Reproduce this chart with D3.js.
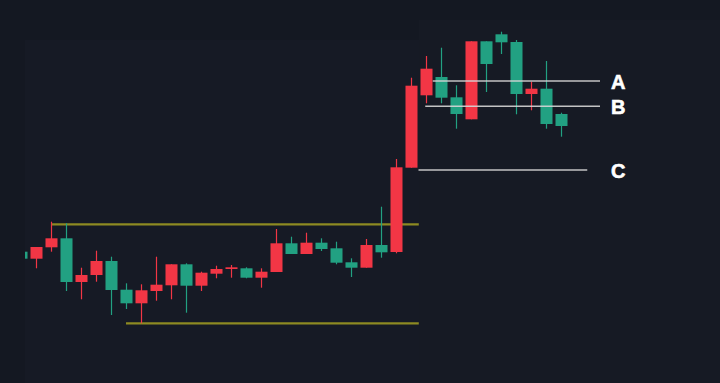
<!DOCTYPE html>
<html><head><meta charset="utf-8">
<script src="https://cdn.jsdelivr.net/npm/d3@7/dist/d3.min.js"></script>
<style>html,body{margin:0;padding:0;background:#151923;overflow:hidden}</style>
</head><body><svg id="c" width="720" height="383"></svg>
<script>
// candle index (time) and OHLC prices
const idx   = d3.range(37);
const opens = [148.3,141.3,152.7,161.7,118,125,139,110.3,96.7,109,114.7,135.7,114.3,126.3,131,131.7,122.3,128,156.7,146,157.3,151.7,137.7,132.3,155,148,232.3,304.7,323,302.7,280.7,358.7,365.7,358,306,311.3,286];
const highs = [148.3,153,178.3,176.7,132.3,149.3,143.3,116.7,115.7,143.3,135.7,136.7,128.3,134.3,135,132.7,131.7,171,163.3,167.3,161.7,158.3,141.7,161,193.3,241,322.3,344,352.3,314.7,358.7,358.7,368.3,360,318.3,339,287.3];
const lows  = [141.3,131.7,148.3,109,100.7,118.3,85,91,76.7,99.3,100.7,87.3,109,121.7,122.3,121.7,112.3,128,146,146,149,135.7,123,132.3,142.3,146.7,232.3,296.7,296.7,271.3,280.7,308,346,285.7,289.7,271.3,263.3];
const closes= [141.3,153,161.7,118,125,139,110,96.7,109.7,115.3,135.7,114.3,127.3,131,132.7,122.3,128.3,156.7,146,157.3,151,137.3,132.3,155,147.7,232.7,314.3,331.3,302.3,286,358.7,336,357.7,306,311.3,276,274];
// horizontal levels: [price, fromIndex, toIndex]
const rangeLevels = [[175.7, 2, 26.52],[76.7, 7, 26.52]];
const labelNames  = ["A","B","C"];
const labelPrices = [319, 293.7, 230];
const labelFrom   = [27.45, 26.95, 26.5];
const labelTo     = [38.6, 38.6, 37.75];

const candles = idx.map(i => ({i, o:opens[i], h:highs[i], l:lows[i], c:closes[i]}));

const svg = d3.select("#c");
const W = 720, H = 383;
const x = d3.scaleLinear().domain([0, 36]).range([21, 561]);
const y = d3.scaleLinear().domain([17, 400]).range([383, 0]);
const bw = 12;
const UP = "#f23645", DOWN = "#22a182", YEL = "#8d8a22";

svg.append("rect").attr("width", W).attr("height", H).attr("fill", "#141822");
svg.append("rect").attr("x", 25).attr("y", 40).attr("width", 394).attr("height", 343).attr("fill", "#161a25");
svg.append("rect").attr("x", 419).attr("y", 20).attr("width", 301).attr("height", 363).attr("fill", "#161a24");

svg.append("clipPath").attr("id", "clip").append("rect")
  .attr("x", 25).attr("y", 0).attr("width", 700).attr("height", H);

// range lines
svg.append("g").selectAll("line").data(rangeLevels).join("line")
  .attr("x1", d => x(d[1])).attr("x2", d => x(d[2]))
  .attr("y1", d => y(d[0])).attr("y2", d => y(d[0]))
  .attr("stroke", YEL).attr("stroke-width", 2.2);

const g = svg.append("g").attr("clip-path", "url(#clip)");
const col = d => d.c >= d.o ? UP : DOWN;
g.selectAll("line.w").data(candles).join("line").attr("class", "w")
  .attr("x1", d => Math.round(x(d.i)) + 0.5).attr("x2", d => Math.round(x(d.i)) + 0.5)
  .attr("y1", d => y(d.h)).attr("y2", d => y(d.l))
  .attr("stroke", col).attr("stroke-width", 1.2);
g.selectAll("rect.b").data(candles).join("rect").attr("class", "b")
  .attr("x", d => Math.round(x(d.i)) + 0.5 - bw / 2)
  .attr("width", bw)
  .attr("y", d => y(Math.max(d.o, d.c)))
  .attr("height", d => Math.max(1.5, Math.abs(y(d.o) - y(d.c))))
  .attr("fill", col);

// A/B/C levels
const lv = labelNames.map((n, k) => ({n, p: labelPrices[k], f: labelFrom[k], t: labelTo[k]}));
svg.append("g").selectAll("line").data(lv).join("line")
  .attr("x1", d => x(d.f)).attr("x2", d => x(d.t))
  .attr("y1", d => y(d.p)).attr("y2", d => y(d.p))
  .attr("stroke", "#d6d6d6").attr("stroke-opacity", 0.9).attr("stroke-width", 1.6);
svg.append("g").selectAll("text").data(lv).join("text")
  .attr("x", 611).attr("y", d => y(d.p) + 7.5)
  .attr("fill", "#ffffff")
  .attr("stroke", "#ffffff").attr("stroke-width", 0.6)
  .attr("font-family", "Liberation Sans, Arial, sans-serif")
  .attr("font-weight", "bold").attr("font-size", 20)
  .text(d => d.n);
</script></body></html>
